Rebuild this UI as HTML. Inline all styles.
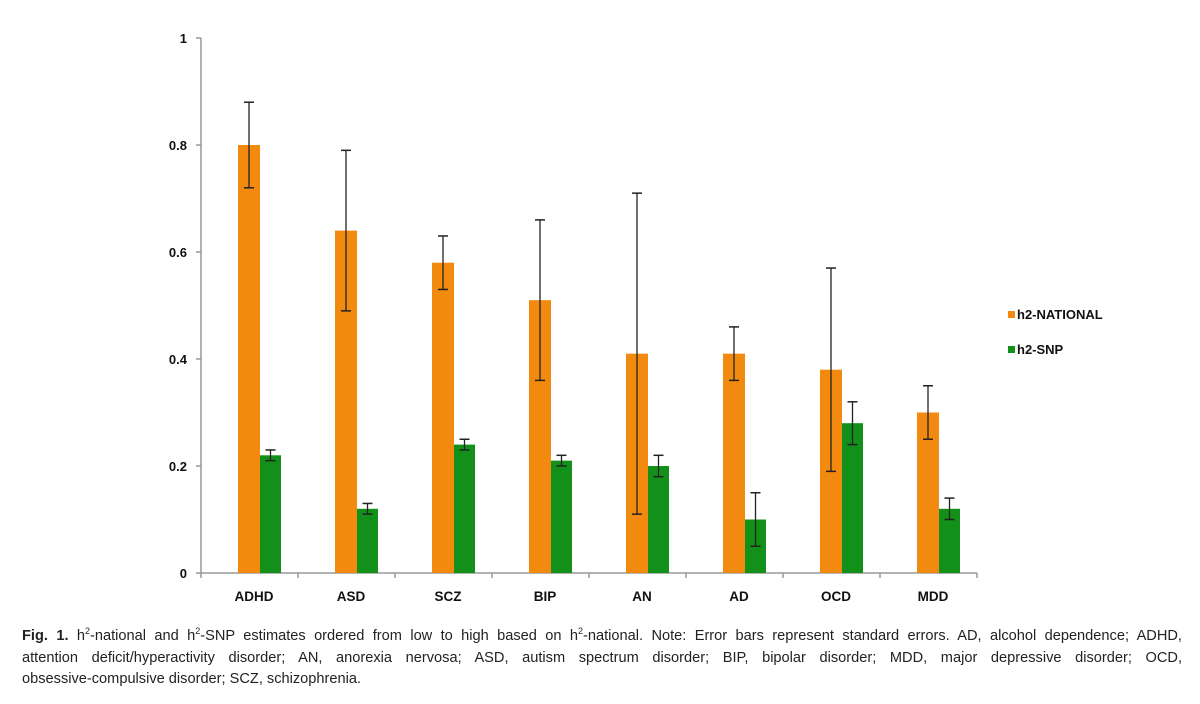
<!DOCTYPE html>
<html><head><meta charset="utf-8"><style>
body{margin:0;background:#fff;width:1200px;height:704px;overflow:hidden;font-family:"Liberation Sans",sans-serif}
#cap{position:absolute;left:22px;top:626px;width:1160px;font-size:14.6px;line-height:21.5px;color:#222}
#cap .j{display:block;text-align:justify;text-align-last:justify;white-space:nowrap}
#cap .l{display:block;text-align:left}
sup{font-size:9px;line-height:0}
</style></head><body>
<svg id="chart" width="1200" height="620" style="position:absolute;left:0;top:0"></svg>
<div id="cap"><span class="j" style="white-space:normal"><b>Fig. 1.</b> h<sup>2</sup>-national and h<sup>2</sup>-SNP estimates ordered from low to high based on h<sup>2</sup>-national. Note: Error bars represent standard errors. AD, alcohol dependence; ADHD,</span><span class="j" style="white-space:normal">attention deficit/hyperactivity disorder; AN, anorexia nervosa; ASD, autism spectrum disorder; BIP, bipolar disorder; MDD, major depressive disorder; OCD,</span><span class="l">obsessive-compulsive disorder; SCZ, schizophrenia.</span></div>
<script>
const categories=["ADHD","ASD","SCZ","BIP","AN","AD","OCD","MDD"];
const national=[0.80,0.64,0.58,0.51,0.41,0.41,0.38,0.30];
const nationalLo=[0.72,0.49,0.53,0.36,0.11,0.36,0.19,0.25];
const nationalHi=[0.88,0.79,0.63,0.66,0.71,0.46,0.57,0.35];
const snp=[0.22,0.12,0.24,0.21,0.20,0.10,0.28,0.12];
const snpLo=[0.21,0.11,0.23,0.20,0.18,0.05,0.24,0.10];
const snpHi=[0.23,0.13,0.25,0.22,0.22,0.15,0.32,0.14];
const yTicks=[0,0.2,0.4,0.6,0.8,1];
const yLabels=["0","0.2","0.4","0.6","0.8","1"];
const svg=document.getElementById('chart');const NS="http://www.w3.org/2000/svg";
const X0=201,CW=97,Y0=573,YH=535;
const y=v=>Y0-v*YH;const cx=i=>X0+i*CW;
function el(t,a,p){const e=document.createElementNS(NS,t);for(const k in a)e.setAttribute(k,a[k]);(p||svg).appendChild(e);return e;}
let ax=el('line',{x1:X0,y1:y(1),x2:X0,y2:Y0,stroke:'#999','stroke-width':1.5});

let bx=el('line',{x1:X0,y1:Y0,x2:X0+8*CW,y2:Y0,stroke:'#999','stroke-width':1.5});

yTicks.forEach((v,i)=>{
 el('line',{x1:X0-5,y1:y(v),x2:X0,y2:y(v),stroke:'#999','stroke-width':1.5});
 let t=el('text',{x:X0-14,y:y(v)+5,'text-anchor':'end','font-size':13,'font-weight':'bold',fill:'#111'});t.textContent=yLabels[i];
 
});
for(let i=0;i<=8;i++)el('line',{x1:cx(i),y1:Y0,x2:cx(i),y2:Y0+5,stroke:'#999','stroke-width':1.5});
function err(x,lo,hi){el('line',{x1:x,y1:y(hi),x2:x,y2:y(lo),stroke:'#222','stroke-width':1.3});
 el('line',{x1:x-5,y1:y(hi),x2:x+5,y2:y(hi),stroke:'#222','stroke-width':1.5});
 el('line',{x1:x-5,y1:y(lo),x2:x+5,y2:y(lo),stroke:'#222','stroke-width':1.5});}
categories.forEach((c,i)=>{
 const ox=cx(i)+37;
 let b=el('rect',{x:ox,y:y(national[i]),width:22,height:national[i]*YH,fill:'#f28a0f'});
 
 let g=el('rect',{x:ox+22,y:y(snp[i]),width:21,height:snp[i]*YH,fill:'#129019'});
 
 err(ox+11,nationalLo[i],nationalHi[i]);err(ox+32.5,snpLo[i],snpHi[i]);
 let t=el('text',{x:ox+16,y:Y0+28,'text-anchor':'middle','font-size':13.5,'font-weight':'bold',fill:'#111'});t.textContent=c;
 
});
[["h2-NATIONAL","#f28a0f",315],["h2-SNP","#129019",350]].forEach(([n,col,yy])=>{
 el('rect',{x:1008,y:yy-4,width:7,height:7,fill:col});
 let t=el('text',{x:1017,y:yy+4,'font-size':13,'font-weight':'bold',fill:'#111'});t.textContent=n;
 
});
</script>
</body></html>
